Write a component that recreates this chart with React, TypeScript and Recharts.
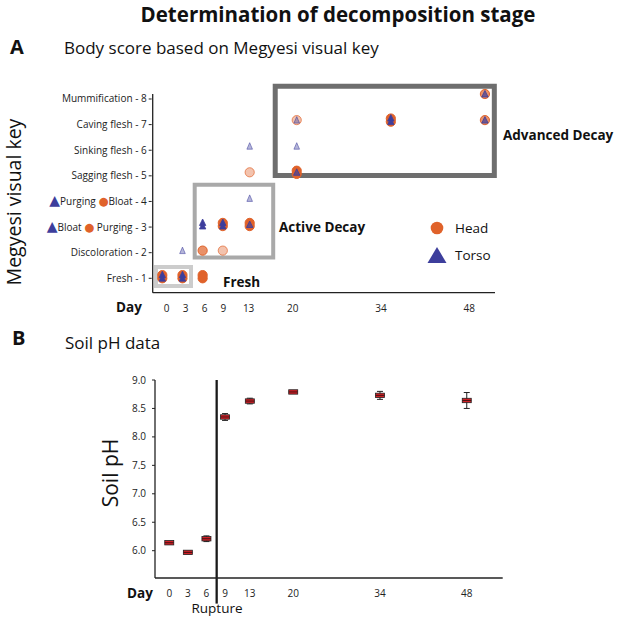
import React from 'react';
import {
  ScatterChart,
  Scatter,
  XAxis,
  YAxis,
  ReferenceArea,
  ReferenceLine,
  ErrorBar,
} from 'recharts';

// ---- data ----
const DAY_TICKS = [0, 3, 6, 9, 13, 20, 34, 48];
const STAGE_TICKS = [1, 2, 3, 4, 5, 6, 7, 8];
const STAGE_LABELS: Record<number, string> = {
  1: 'Fresh - 1',
  2: 'Discoloration - 2',
  5: 'Sagging flesh - 5',
  6: 'Sinking flesh - 6',
  7: 'Caving flesh - 7',
  8: 'Mummification - 8',
};

// head scores (n = number of overlapping observations)
const HEAD_DAY = [0, 3, 6, 6, 9, 9, 13, 13, 20, 20, 34, 48, 48];
const HEAD_SCORE = [1, 1, 1, 2, 2, 3, 3, 5, 5, 7, 7, 8, 7];
const HEAD_N = [3, 3, 3, 2, 1, 3, 3, 1, 3, 1, 3, 2, 2];

// torso scores
const TORSO_DAY = [0, 3, 3, 6, 9, 13, 13, 13, 20, 20, 20, 34, 48, 48];
const TORSO_SCORE = [1, 1, 2, 3, 3, 3, 4, 6, 5, 6, 7, 7, 8, 7];
const TORSO_N = [3, 3, 1, 3, 3, 2, 1, 1, 2, 1, 1, 3, 2, 2];

// soil pH
const PH_DAY = [0, 3, 6, 9, 13, 20, 34, 48];
const PH_VALUE = [6.14, 5.97, 6.21, 8.35, 8.63, 8.79, 8.73, 8.64];
const PH_LOW = [0.02, 0.02, 0.05, 0.06, 0.05, 0.02, 0.07, 0.14];
const PH_HIGH = [0.02, 0.02, 0.05, 0.06, 0.05, 0.02, 0.07, 0.14];
const PH_TICKS = [6.0, 6.5, 7.0, 7.5, 8.0, 8.5, 9.0];
const RUPTURE_DAY = 7.65;

// decomposition stage boxes (data units)
const STAGE_BOXES = [
  { x1: -0.94, x2: 4.27, y1: 0.644, y2: 1.37, color: '#cccccc', w: 4 },
  { x1: 4.82, x2: 16.5, y1: 1.74, y2: 4.52, color: '#a9a9a9', w: 4 },
  { x1: 16.8, x2: 49.4, y1: 4.88, y2: 8.3, color: '#6e6e6e', w: 5 },
];

const HEAD = '#e0622a';
const TORSO = '#3d3e9c';
const OPACITY: Record<number, number> = { 1: 0.38, 2: 0.7, 3: 1 };

const headData = HEAD_DAY.map((day, i) => ({ day, score: HEAD_SCORE[i], n: HEAD_N[i] }));
const torsoData = TORSO_DAY.map((day, i) => ({ day, score: TORSO_SCORE[i], n: TORSO_N[i] }));
const phData = PH_DAY.map((day, i) => ({ day, ph: PH_VALUE[i], err: [PH_LOW[i], PH_HIGH[i]] }));

// ---- shapes ----
function HeadShape(props: any) {
  const { cx, cy, payload } = props;
  const op = OPACITY[payload.n];
  const copies = payload.n === 3 ? [-1.6, 1.6] : [0];
  return (
    <g>
      {copies.map((d, i) => (
        <circle
          key={i}
          cx={cx}
          cy={cy + d}
          r={4.6}
          fill={HEAD}
          fillOpacity={op}
          stroke={HEAD}
          strokeOpacity={Math.min(1, op + 0.3)}
          strokeWidth={1}
        />
      ))}
    </g>
  );
}

function TorsoShape(props: any) {
  const { cx, cy, payload } = props;
  const op = OPACITY[payload.n];
  const copies = payload.n === 3 ? [-2, 1.5] : [0];
  const hw = payload.n === 1 ? 2.8 : 3.2;
  return (
    <g>
      {copies.map((d, i) => (
        <polygon
          key={i}
          points={`${cx - hw},${cy + d + 3} ${cx + hw},${cy + d + 3} ${cx},${cy + d - 3.5}`}
          fill={TORSO}
          fillOpacity={op}
          stroke={TORSO}
          strokeOpacity={Math.min(1, op + 0.3)}
          strokeWidth={0.8}
        />
      ))}
    </g>
  );
}

function BoxShape(props: any) {
  const { cx, cy } = props;
  return (
    <g>
      <rect x={cx - 4.5} y={cy - 2.2} width={9} height={4.4} fill="#d11f26" stroke="#222" strokeWidth={0.8} />
      <line x1={cx - 4.5} x2={cx + 4.5} y1={cy} y2={cy} stroke="#3a1010" strokeWidth={0.9} />
    </g>
  );
}

// ---- ticks ----
function DayTick(props: any) {
  const { x, y, payload, shift } = props;
  return (
    <text x={x} y={y + shift} textAnchor="middle" fontSize={10} fill="#222">
      {payload.value}
    </text>
  );
}

function StageTick(props: any) {
  const { x, y, payload } = props;
  const v = payload.value;
  if (v === 4) {
    return (
      <text x={x} y={y} dy="0.35em" textAnchor="end" fontSize={10} fill="#222">
        <tspan fill={TORSO} fontSize={14} fontFamily="DejaVu Sans">▲</tspan>
        <tspan>Purging </tspan>
        <tspan fill={HEAD} fontSize={11.5} fontFamily="DejaVu Sans">●</tspan>
        <tspan>Bloat - 4</tspan>
      </text>
    );
  }
  if (v === 3) {
    return (
      <text x={x} y={y} dy="0.35em" textAnchor="end" fontSize={10} fill="#222">
        <tspan fill={TORSO} fontSize={14} fontFamily="DejaVu Sans">▲</tspan>
        <tspan>Bloat </tspan>
        <tspan fill={HEAD} fontSize={11.5} fontFamily="DejaVu Sans">●</tspan>
        <tspan> Purging - 3</tspan>
      </text>
    );
  }
  return (
    <text x={x} y={y} dy="0.35em" textAnchor="end" fontSize={10} fill="#222">
      {STAGE_LABELS[v]}
    </text>
  );
}

function PhTick(props: any) {
  const { x, y, payload } = props;
  return (
    <text x={x} y={y} dy="0.35em" textAnchor="end" fontSize={10} fill="#222">
      {Number(payload.value).toFixed(1)}
    </text>
  );
}

const AXIS_LINE = { stroke: '#222', strokeWidth: 1.3 };

function BodyScoreChart() {
  return (
    <ScatterChart width={617} height={320} margin={{ top: 94, right: 122, bottom: 6.3, left: 1.7 }}>
      {/* data axes: carry the marks and draw the axis lines */}
      <XAxis
        xAxisId="d"
        type="number"
        dataKey="day"
        domain={[-1.43, 49.5]}
        height={1}
        tick={false}
        tickLine={false}
        axisLine={AXIS_LINE}
      />
      <YAxis
        yAxisId="d"
        type="number"
        dataKey="score"
        domain={[0.387, 8]}
        width={1}
        tick={false}
        tickLine={false}
        axisLine={AXIS_LINE}
      />
      {/* label axes: tick labels as placed in the original figure */}
      <XAxis
        xAxisId="t"
        type="number"
        dataKey="day"
        domain={[-2.22, 52.1]}
        allowDataOverflow
        ticks={DAY_TICKS}
        interval={0}
        height={20}
        tickLine={false}
        tickSize={0}
        tickMargin={0}
        axisLine={false}
        tick={<DayTick shift={18} />}
      />
      <YAxis
        yAxisId="t"
        type="number"
        dataKey="score"
        domain={[0.4375, 8.195]}
        allowDataOverflow
        ticks={STAGE_TICKS}
        interval={0}
        width={150}
        tickSize={3}
        tickMargin={2}
        tickLine={{ stroke: '#222' }}
        axisLine={false}
        tick={<StageTick />}
      />
      <Scatter xAxisId="t" yAxisId="t" data={[]} legendType="none" isAnimationActive={false} />
      {STAGE_BOXES.map((b, i) => (
        <ReferenceArea
          key={i}
          xAxisId="d"
          yAxisId="d"
          x1={b.x1}
          x2={b.x2}
          y1={b.y1}
          y2={b.y2}
          fill="none"
          fillOpacity={0}
          stroke={b.color}
          strokeWidth={b.w}
          ifOverflow="visible"
        />
      ))}
      <Scatter xAxisId="d" yAxisId="d" name="Head" data={headData} shape={<HeadShape />} isAnimationActive={false} />
      <Scatter xAxisId="d" yAxisId="d" name="Torso" data={torsoData} shape={<TorsoShape />} isAnimationActive={false} />
    </ScatterChart>
  );
}

function SoilPhChart() {
  return (
    <ScatterChart width={617} height={318} margin={{ top: 80, right: 114.3, bottom: 20, left: 5 }}>
      <XAxis
        type="number"
        dataKey="day"
        domain={[-2.3, 53.8]}
        allowDataOverflow
        ticks={DAY_TICKS}
        interval={0}
        height={20}
        tickLine={false}
        tickSize={0}
        tickMargin={0}
        axisLine={AXIS_LINE}
        tick={<DayTick shift={18.6} />}
      />
      <YAxis
        type="number"
        dataKey="ph"
        domain={[5.52, 9.0]}
        allowDataOverflow
        ticks={PH_TICKS}
        interval={0}
        width={150}
        tickSize={3}
        tickMargin={6}
        tickLine={{ stroke: '#222' }}
        axisLine={AXIS_LINE}
        tick={<PhTick />}
      />
      <ReferenceLine
        segment={[
          { x: RUPTURE_DAY, y: 9.0 },
          { x: RUPTURE_DAY, y: 5.07 },
        ]}
        stroke="#1a1a1a"
        strokeWidth={2.3}
        ifOverflow="visible"
      />
      <Scatter name="Soil pH" data={phData} shape={<BoxShape />} isAnimationActive={false}>
        <ErrorBar dataKey="err" direction="y" width={3} stroke="#222" strokeWidth={1} isAnimationActive={false} />
      </Scatter>
    </ScatterChart>
  );
}

export default function App() {
  return (
    <div
      style={{
        position: 'absolute',
        left: 0,
        top: 0,
        width: 617,
        height: 618,
        background: '#fff',
        fontFamily: "'Open Sans', sans-serif",
      }}
    >
      <div style={{ position: 'absolute', left: 0, top: 0 }}>
        <BodyScoreChart />
      </div>
      <div style={{ position: 'absolute', left: 0, top: 300 }}>
        <SoilPhChart />
      </div>
      <svg
        width={617}
        height={618}
        style={{ position: 'absolute', left: 0, top: 0, pointerEvents: 'none' }}
        fill="#111"
      >
        <text x={338} y={22} textAnchor="middle" fontSize={20.5} fontWeight={700}>
          Determination of decomposition stage
        </text>

        {/* panel A */}
        <text x={10} y={54} fontSize={20} fontWeight={700}>A</text>
        <text x={64} y={54} fontSize={17}>Body score based on Megyesi visual key</text>
        <text
          x={13}
          y={202}
          transform="rotate(-90 13 202)"
          textAnchor="middle"
          dominantBaseline="central"
          fontSize={19.5}
        >
          Megyesi visual key
        </text>
        <text x={116} y={311.7} fontSize={13.5} fontWeight={700}>Day</text>
        <text x={223} y={286.5} fontSize={13.5} fontWeight={700}>Fresh</text>
        <text x={279} y={231.5} fontSize={13.5} fontWeight={700}>Active Decay</text>
        <text x={503} y={140} fontSize={13.5} fontWeight={700}>Advanced Decay</text>

        {/* legend */}
        <circle cx={437} cy={228} r={6.3} fill={HEAD} />
        <text x={455} y={233} fontSize={13.5}>Head</text>
        <polygon points="427.5,263 446.5,263 437,247" fill={TORSO} />
        <text x={455} y={260} fontSize={13.5}>Torso</text>

        {/* panel B */}
        <text x={12} y={345} fontSize={20} fontWeight={700}>B</text>
        <text x={65} y={349} fontSize={17}>Soil pH data</text>
        <text
          x={110}
          y={473}
          transform="rotate(-90 110 473)"
          textAnchor="middle"
          dominantBaseline="central"
          fontSize={21}
        >
          Soil pH
        </text>
        <text x={127} y={597.7} fontSize={13.5} fontWeight={700}>Day</text>
        <text x={217} y={612.5} textAnchor="middle" fontSize={13.5}>Rupture</text>
      </svg>
    </div>
  );
}
